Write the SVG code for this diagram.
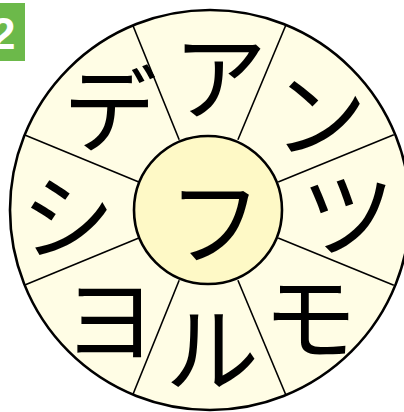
<svg xmlns="http://www.w3.org/2000/svg" width="404" height="412" viewBox="0 0 404 412">
<style>
.k{font-family:"Noto Sans CJK JP","Noto Sans CJK SC",sans-serif;font-size:94px;text-anchor:middle;fill:#000}
.d{stroke:#000;stroke-width:1.6;fill:none}
</style>
<rect width="404" height="412" fill="#fff"/>
<g id="badge"><rect x="0" y="3" width="25" height="58" fill="#6cb94a"/><text x="-9" y="49" font-family="Liberation Sans, sans-serif" font-weight="bold" font-size="44" fill="#fff">2</text></g>
<g id="wheel"><circle cx="210" cy="210" r="200" fill="#fffde5" stroke="#000" stroke-width="2.6"/></g>
<g id="connectors">
<line class="d" x1="179.2" y1="139.8" x2="132.8" y2="25.3"/>
<line class="d" x1="237.9" y1="139.8" x2="285.8" y2="25.3"/>
<line class="d" x1="278.2" y1="181.9" x2="393.8" y2="134.8"/>
<line class="d" x1="278.2" y1="238.1" x2="393.8" y2="285.2"/>
<line class="d" x1="237.9" y1="280.2" x2="285.8" y2="394.7"/>
<line class="d" x1="179.2" y1="280.2" x2="132.8" y2="394.7"/>
<line class="d" x1="138.8" y1="238.1" x2="24.2" y2="285.2"/>
<line class="d" x1="138.8" y1="181.9" x2="24.2" y2="134.8"/>
</g>
<g id="center"><circle cx="208" cy="210" r="74" fill="#fef9c6" stroke="#000" stroke-width="2.6"/><text class="k" x="215" y="258" font-size="98">フ</text></g>
<g id="n-a"><text class="k" x="220" y="113">ア</text></g>
<g id="n-n"><text class="k" x="320" y="150">ン</text></g>
<g id="n-tsu"><text class="k" x="348" y="250">ツ</text></g>
<g id="n-mo"><text class="k" x="310" y="353">モ</text></g>
<g id="n-ru"><text class="k" x="212" y="385">ル</text></g>
<g id="n-yo"><text class="k" x="110" y="355">ヨ</text></g>
<g id="n-shi"><text class="k" x="68" y="253">シ</text></g>
<g id="n-de"><text class="k" x="110" y="145">デ</text></g>
</svg>
